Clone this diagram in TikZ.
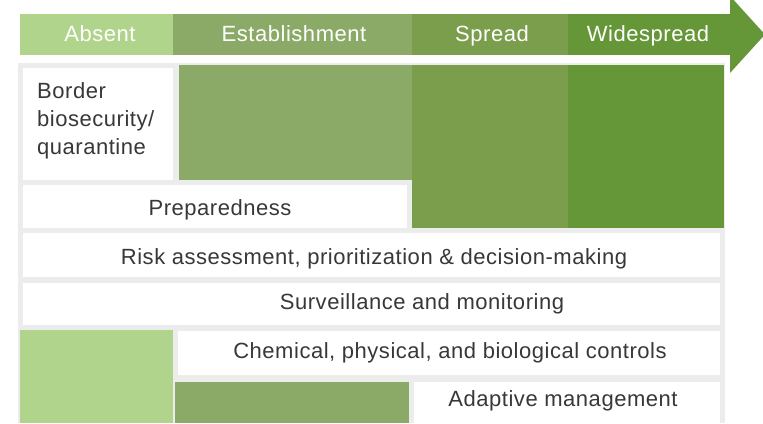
\documentclass[tikz,border=0pt]{standalone}
\usepackage{fontspec}
\newfontfamily\diafont{Liberation Sans}[LetterSpace=2.4]
\definecolor{cabs}{HTML}{B1D48C}
\definecolor{cest}{HTML}{8CAA67}
\definecolor{cspr}{HTML}{7A9E4B}
\definecolor{cwid}{HTML}{659637}
\definecolor{cbg}{HTML}{ECECEC}
\definecolor{ctxt}{HTML}{383838}
\begin{document}
\begin{tikzpicture}[x=1pt,y=-1pt,
  blk/.style={anchor=north west, inner sep=0pt, outer sep=0pt, draw=none},
  hdr/.style={anchor=base, text=white, font=\diafont\fontsize{22}{26}\selectfont, inner sep=0pt},
  lbl/.style={anchor=base, text=ctxt, font=\diafont\fontsize{22}{28}\selectfont, inner sep=0pt}]
\useasboundingbox (0,0) rectangle (763,423);
% header arrow
\node[blk, fill=cabs, minimum width=153, minimum height=41] (habs) at (20,14) {};
\node[blk, fill=cest, minimum width=239, minimum height=41] (hest) at (173,14) {};
\node[blk, fill=cspr, minimum width=156, minimum height=41] (hspr) at (412,14) {};
\node[blk, fill=cwid, minimum width=162, minimum height=41] (hwid) at (568,14) {};
\fill[cwid] (hwid.north east) ++(0,-18) -- (765,34.5) -- (730,73) -- (hwid.south east) -- cycle;
\node[hdr] (tabs) at (100,41) {Absent};
\node[hdr] (test) at (294,41) {Establishment};
\node[hdr] (tspr) at (492,41) {Spread};
\node[hdr] (twid) at (648,41) {Widespread};
% panel
\node[blk, fill=cbg, minimum width=707, minimum height=360] (panel) at (18,63) {};
\node[blk, fill=white, minimum width=150, minimum height=112] (border) at (23,68) {};
\node[blk, fill=cest, minimum width=233, minimum height=115] (gest) at (179,65) {};
\node[blk, fill=cspr, minimum width=156, minimum height=163] (gspr) at (412,65) {};
\node[blk, fill=cwid, minimum width=156, minimum height=163] (gwid) at (568,65) {};
\node[blk, fill=white, minimum width=384, minimum height=43] (prep) at (23,185) {};
\node[blk, fill=white, minimum width=697, minimum height=44] (risk) at (23,233) {};
\node[blk, fill=white, minimum width=697, minimum height=42] (surv) at (23,283) {};
\node[blk, fill=cabs, minimum width=153, minimum height=93] (babs) at (20,330) {};
\node[blk, fill=white, minimum width=542, minimum height=44] (chem) at (178,331) {};
\node[blk, fill=cest, minimum width=234, minimum height=41] (best) at (175,382) {};
\node[blk, fill=white, minimum width=306, minimum height=41] (adap) at (414,382) {};
% labels
\node[lbl, anchor=base west] (l1) at (37,98) {Border};
\node[lbl, anchor=base west] (l2) at (37,126) {biosecurity/};
\node[lbl, anchor=base west] (l3) at (37,154) {quarantine};
\node[lbl] (lprep) at (220,215) {Preparedness};
\node[lbl] (lrisk) at (374,264) {Risk assessment, prioritization \& decision-making};
\node[lbl] (lsurv) at (422,309) {Surveillance and monitoring};
\node[lbl] (lchem) at (450,358) {Chemical, physical, and biological controls};
\node[lbl] (ladap) at (563,406) {Adaptive management};
\end{tikzpicture}
\end{document}
